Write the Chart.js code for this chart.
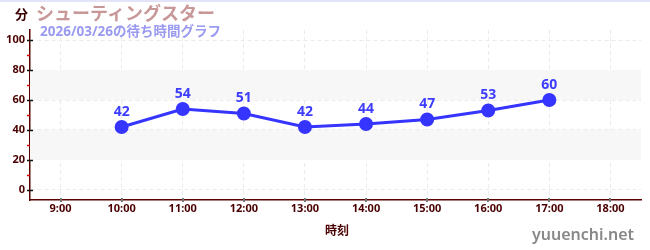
<!DOCTYPE html>
<html>
<head>
<meta charset="utf-8">
<script src="https://cdn.jsdelivr.net/npm/chart.js@4"></script>
<style>
  body { margin: 0; background: #fff; }
  #wrap { position: relative; width: 650px; height: 250px; font-family: "Noto Sans", "Noto Sans CJK JP", sans-serif; }
  #wrap .t { position: absolute; white-space: nowrap; font-weight: bold; line-height: 1; }
  #topline { position: absolute; left: 0; top: 0; width: 650px; height: 2px; background: #e4e4f8; }
</style>
</head>
<body>
<div id="wrap">
  <canvas id="waitChart" width="650" height="250"></canvas>
  <div id="topline"></div>
  <div class="t" style="left:15px;top:8px;font-size:13px;color:#3a0000;">分</div>
  <div class="t" style="left:36px;top:4px;font-size:18px;color:#c89898;">シューティングスター</div>
  <div class="t" style="left:40px;top:25px;font-size:13.5px;color:#9a9af0;">2026/03/26の待ち時間グラフ</div>
  <div class="t" style="left:325px;top:225px;font-size:12px;color:#4a0000;">時刻</div>
  <div class="t" style="left:532px;top:226px;font-size:16px;color:#888;font-weight:600;">yuuenchi.net</div>
</div>
<script>
const hours = [10, 11, 12, 13, 14, 15, 16, 17];
const waits = [42, 54, 51, 42, 44, 47, 53, 60];
const xTicks = [9, 10, 11, 12, 13, 14, 15, 16, 17, 18];
const yTicks = [0, 20, 40, 60, 80, 100];
const yMinorTicks = [10, 30, 50, 70, 90];
const bands = [[20, 40], [60, 80]];

const gridColor = '#ebebeb';
const axisColor = '#5a0000';
const lineColor = '#3535ff';

// shaded bands behind the line
const bandPlugin = {
  id: 'bands',
  beforeDatasetsDraw(chart) {
    const { ctx, chartArea, scales } = chart;
    ctx.save();
    ctx.fillStyle = '#f7f7f7';
    bands.forEach(([lo, hi]) => {
      const y1 = scales.y.getPixelForValue(hi);
      const y2 = scales.y.getPixelForValue(lo);
      ctx.fillRect(chartArea.left, y1, chartArea.right - chartArea.left, y2 - y1);
    });
    ctx.restore();
  }
};

// axis tick marks (major cross the axis, minor red ones outside)
const tickPlugin = {
  id: 'tickMarks',
  afterDraw(chart) {
    const { ctx, chartArea, scales } = chart;
    ctx.save();
    ctx.lineWidth = 1.5;
    ctx.strokeStyle = '#111';
    yTicks.forEach(v => {
      const y = Math.round(scales.y.getPixelForValue(v)) + 0.5;
      ctx.beginPath();
      ctx.moveTo(chartArea.left - 3, y);
      ctx.lineTo(chartArea.left + 3, y);
      ctx.stroke();
    });
    ctx.strokeStyle = '#e00000';
    yMinorTicks.forEach(v => {
      const y = Math.round(scales.y.getPixelForValue(v)) + 0.5;
      ctx.beginPath();
      ctx.moveTo(chartArea.left - 3, y);
      ctx.lineTo(chartArea.left, y);
      ctx.stroke();
    });
    ctx.strokeStyle = '#777';
    ctx.lineWidth = 2;
    xTicks.forEach(v => {
      const x = Math.round(scales.x.getPixelForValue(v));
      ctx.beginPath();
      ctx.moveTo(x, chartArea.bottom - 2);
      ctx.lineTo(x, chartArea.bottom + 2);
      ctx.stroke();
    });
    ctx.restore();
  }
};

// value labels above points
const labelPlugin = {
  id: 'valueLabels',
  afterDatasetsDraw(chart) {
    const { ctx } = chart;
    const meta = chart.getDatasetMeta(0);
    ctx.save();
    ctx.font = 'bold 14px "Noto Sans", sans-serif';
    ctx.fillStyle = '#3d3dff';
    ctx.textAlign = 'center';
    ctx.textBaseline = 'middle';
    meta.data.forEach((pt, i) => {
      ctx.fillText(String(waits[i]), pt.x, pt.y - 15);
    });
    ctx.restore();
  }
};

const tickFont = { family: '"Noto Sans", sans-serif', size: 11, weight: 'bold' };

new Chart(document.getElementById('waitChart'), {
  type: 'line',
  data: {
    datasets: [{
      data: hours.map((h, i) => ({ x: h, y: waits[i] })),
      borderColor: lineColor,
      backgroundColor: lineColor,
      borderWidth: 3,
      pointRadius: 5.5,
      pointHoverRadius: 5.5,
      tension: 0
    }]
  },
  options: {
    responsive: false,
    animation: false,
    events: [],
    layout: { padding: { top: 30, right: 9, left: 0, bottom: 0 } },
    plugins: { legend: { display: false }, tooltip: { enabled: false } },
    scales: {
      x: {
        type: 'linear',
        min: 8.5,
        max: 18.5,
        afterBuildTicks: s => { s.ticks = xTicks.map(v => ({ value: v })); },
        afterFit: s => { s.height = 50; },
        ticks: {
          color: '#4a0000',
          font: tickFont,
          padding: 2,
          callback: v => v + ':00'
        },
        grid: { color: gridColor, drawTicks: false },
        border: { color: axisColor, width: 1.5, dash: [4, 3] }
      },
      y: {
        min: -6.8,
        max: 106.8,
        afterBuildTicks: s => { s.ticks = yTicks.map(v => ({ value: v })); },
        afterFit: s => { s.width = 30; },
        ticks: { color: '#4a0000', font: tickFont, padding: 5 },
        grid: { color: gridColor, drawTicks: false },
        border: { color: axisColor, width: 1.5, dash: [4, 3] }
      }
    }
  },
  plugins: [bandPlugin, tickPlugin, labelPlugin]
});
</script>
</body>
</html>
